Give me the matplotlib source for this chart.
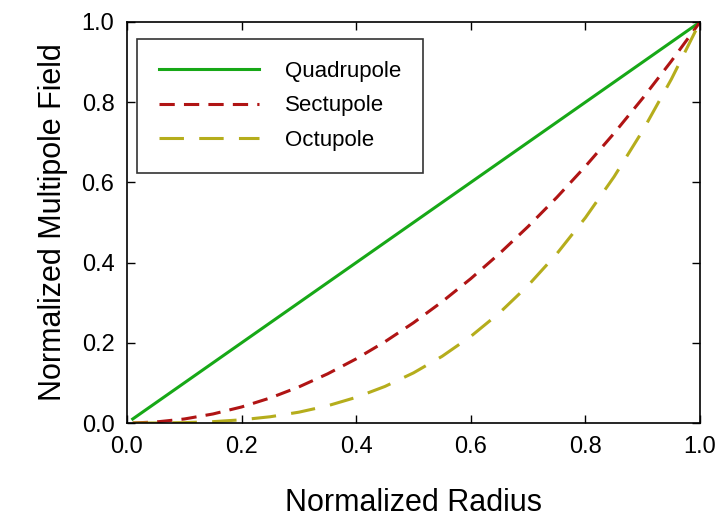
import matplotlib
matplotlib.use("Agg")
import matplotlib.pyplot as plt

plt.rcParams['font.family'] = ['Liberation Sans', 'DejaVu Sans']

radius = [0.01, 0.05, 0.10, 0.15, 0.20, 0.25, 0.30, 0.35, 0.40, 0.45, 0.50,
          0.55, 0.60, 0.65, 0.70, 0.75, 0.80, 0.85, 0.90, 0.95, 1.00]
quadrupole = [0.01, 0.05, 0.10, 0.15, 0.20, 0.25, 0.30, 0.35, 0.40, 0.45, 0.50,
              0.55, 0.60, 0.65, 0.70, 0.75, 0.80, 0.85, 0.90, 0.95, 1.00]
sectupole = [0.0001, 0.0025, 0.010, 0.0225, 0.040, 0.0625, 0.090, 0.1225, 0.160, 0.2025, 0.250,
             0.3025, 0.360, 0.4225, 0.490, 0.5625, 0.640, 0.7225, 0.810, 0.9025, 1.000]
octupole = [0.0, 0.0001, 0.001, 0.0034, 0.008, 0.0156, 0.027, 0.0429, 0.064, 0.0911, 0.125,
            0.1664, 0.216, 0.2746, 0.343, 0.4219, 0.512, 0.6141, 0.729, 0.8574, 1.000]
ticks = [0.0, 0.2, 0.4, 0.6, 0.8, 1.0]

fig = plt.figure(figsize=(7.24, 5.23), dpi=100)
ax = fig.add_axes([0.1754, 0.1912, 0.7915, 0.7668])
ax.plot(radius, quadrupole, color='#17a817', lw=2.2, label='Quadrupole')
ax.plot(radius, sectupole, color='#b01414', lw=2.2, dashes=(5, 3), label='Sectupole')
ax.plot(radius, octupole, color='#b5ad1c', lw=2.2, dashes=(8, 5), label='Octupole')
ax.set_xlim(0, 1)
ax.set_ylim(0, 1)
ax.set_xticks(ticks)
ax.set_yticks(ticks)
ax.set_xticklabels([f"{t:.1f}" for t in ticks])
ax.set_yticklabels([f"{t:.1f}" for t in ticks])
ax.tick_params(direction='in', length=6, width=1, labelsize=17, top=True, right=True, pad=9)
for s in ax.spines.values():
    s.set_linewidth(1.2)
ax.set_xlabel('Normalized Radius', fontsize=22, labelpad=22)
ax.set_ylabel('Normalized Multipole Field', fontsize=22, labelpad=10)
leg = ax.legend(loc='upper left', bbox_to_anchor=(0.017, 0.958), fontsize=16,
                frameon=True, fancybox=False, edgecolor='black', handlelength=4.5,
                handletextpad=1.15, borderpad=1.0, labelspacing=0.6, borderaxespad=0)
leg.get_frame().set_linewidth(1.2)
fig.savefig('out.png', dpi=100)
